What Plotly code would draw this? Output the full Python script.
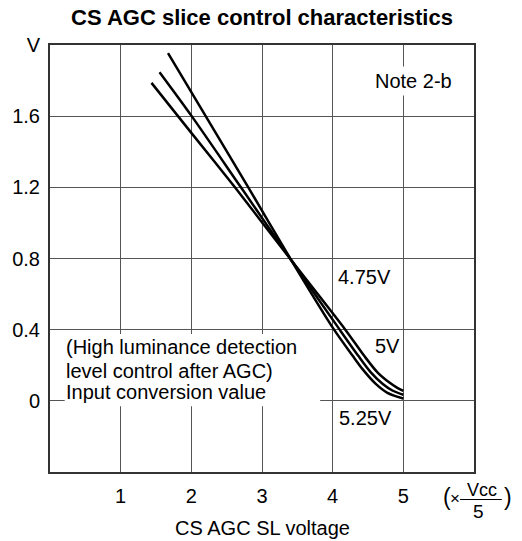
import plotly.graph_objects as go

# ---- data ----
supply_labels = ["4.75V", "5V", "5.25V"]

x_475 = [1.436, 2.0, 2.617, 3.415, 4.174, 4.446, 4.634, 4.798, 4.915, 5.0]
y_475 = [1.787, 1.506, 1.2, 0.79, 0.403, 0.253, 0.16, 0.104, 0.073, 0.056]

x_500 = [1.55, 2.0, 2.702, 3.415, 4.094, 4.362, 4.54, 4.705, 4.845, 5.0]
y_500 = [1.847, 1.603, 1.2, 0.79, 0.403, 0.253, 0.16, 0.096, 0.058, 0.034]

x_525 = [1.67, 2.0, 2.806, 3.415, 4.015, 4.283, 4.423, 4.61, 4.775, 5.0]
y_525 = [1.954, 1.735, 1.2, 0.79, 0.403, 0.253, 0.178, 0.095, 0.045, 0.013]

x_tick_vals = [1, 2, 3, 4, 5]
x_tick_text = ["1", "2", "3", "4", "5"]
y_tick_vals = [0, 0.4, 0.8, 1.2, 1.6, 2.0]
y_tick_text = ["0", "0.4", "0.8", "1.2", "1.6", "V"]

title_text = "CS AGC slice control characteristics"
x_title_text = "CS AGC SL voltage"
note_text = "Note 2-b"
desc_lines = ["(High luminance detection", "level control after AGC)", "Input conversion value"]

FONT = "Liberation Sans, Arial, Helvetica, sans-serif"
FS = 20

fig = go.Figure()
for xs, ys, name in [(x_475, y_475, supply_labels[0]),
                     (x_500, y_500, supply_labels[1]),
                     (x_525, y_525, supply_labels[2])]:
    fig.add_trace(go.Scatter(x=xs, y=ys, mode="lines", name=name,
                             line=dict(color="black", width=2.5, shape="spline", smoothing=0.8),
                             showlegend=False, hoverinfo="skip"))

fig.update_layout(
    width=522, height=541,
    margin=dict(l=47, r=48, t=45, b=69),
    paper_bgcolor="white", plot_bgcolor="white",
    font=dict(family=FONT, size=FS, color="black"),
    title=dict(text="<b>" + title_text + "</b>", x=0.5, xref="paper",
               y=(541 - 17) / 541, yref="container", yanchor="middle", xanchor="center",
               font=dict(size=22, family=FONT, color="black")),
)
fig.update_xaxes(range=[0, 6], tickvals=x_tick_vals, ticktext=x_tick_text,
                 showgrid=True, gridcolor="#555", gridwidth=1, zeroline=False,
                 showline=True, mirror=True, linecolor="#333", linewidth=2,
                 ticks="", ticklabelstandoff=5)
fig.update_yaxes(range=[-0.4, 2.0], tickvals=y_tick_vals, ticktext=y_tick_text,
                 showgrid=True, gridcolor="#555", gridwidth=1, zeroline=False,
                 showline=True, mirror=True, linecolor="#333", linewidth=2,
                 ticks="", ticklabelstandoff=4)

# white box behind the description text (hides grid)
fig.add_shape(type="rect", xref="x", yref="y", x0=0.208, x1=3.823, y0=-0.03, y1=0.375,
              fillcolor="white", line=dict(width=0), layer="above")

desc_y = [0.300, 0.169, 0.047]
for t, yy in zip(desc_lines, desc_y):
    fig.add_annotation(x=0.2, y=yy, xref="x", yref="y", text=t, showarrow=False,
                       xanchor="left", yanchor="middle", font=dict(size=FS))

fig.add_annotation(x=5.145, y=1.80, xref="x", yref="y", text=note_text, showarrow=False,
                   xanchor="center", yanchor="middle", bgcolor="white", borderpad=3,
                   font=dict(size=FS))

label_pos = [(4.447, 0.694), (4.775, 0.309), (4.47, -0.099)]
for lab, (lx, ly) in zip(supply_labels, label_pos):
    fig.add_annotation(x=lx, y=ly, xref="x", yref="y", text=lab, showarrow=False,
                       xanchor="center", yanchor="middle", font=dict(size=FS))

# x-axis title
fig.add_annotation(x=0.5, y=(472 - 528) / 427, xref="paper", yref="paper", text=x_title_text,
                   showarrow=False, xanchor="center", yanchor="middle", font=dict(size=FS))

# unit (x Vcc/5)
fig.add_annotation(x=(446.5 - 47) / 427, y=(472 - 497) / 427, xref="paper", yref="paper", text="(",
                   showarrow=False, xanchor="center", yanchor="middle", font=dict(size=23))
fig.add_annotation(x=(455 - 47) / 427, y=(472 - 498) / 427, xref="paper", yref="paper", text="×",
                   showarrow=False, xanchor="center", yanchor="middle", font=dict(size=17))
fig.add_annotation(x=(482.5 - 47) / 427, y=(472 - 490) / 427, xref="paper", yref="paper", text="Vcc",
                   showarrow=False, xanchor="center", yanchor="middle", font=dict(size=18))
fig.add_annotation(x=(479 - 47) / 427, y=(472 - 511) / 427, xref="paper", yref="paper", text="5",
                   showarrow=False, xanchor="center", yanchor="middle", font=dict(size=19))
fig.add_annotation(x=(508.5 - 47) / 427, y=(472 - 497) / 427, xref="paper", yref="paper", text=")",
                   showarrow=False, xanchor="center", yanchor="middle", font=dict(size=23))
fig.add_shape(type="line", xref="paper", yref="paper",
              x0=(460 - 47) / 427, x1=(502 - 47) / 427,
              y0=(472 - 499.5) / 427, y1=(472 - 499.5) / 427,
              line=dict(color="black", width=1.2))

fig.write_html("out.html", config={"displayModeBar": False},
               post_script="document.body.style.margin='0';document.body.style.padding='0';")
